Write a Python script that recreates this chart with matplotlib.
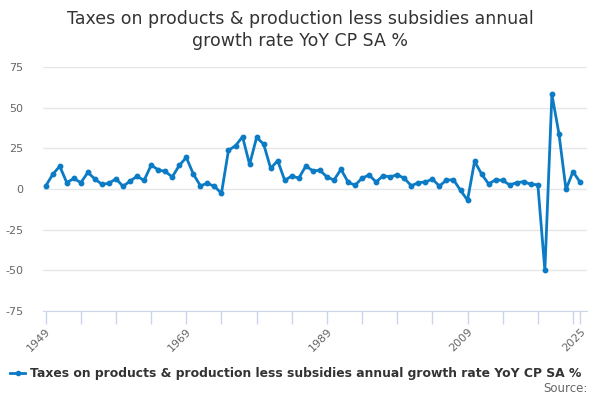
import matplotlib
matplotlib.use("Agg")
import matplotlib.pyplot as plt

years = list(range(1949, 2026))
values = [
    1.8, 9.0, 14.0, 3.9, 6.5, 3.9, 10.2, 6.1, 2.9, 3.5,   # 1949-1958
    6.3, 1.6, 4.9, 7.8, 5.3, 14.7, 11.8, 10.8, 7.4, 14.5,  # 1959-1968
    19.4, 9.2, 2.0, 3.5, 1.6, -2.6, 23.8, 26.6, 32.1, 15.1,  # 1969-1978
    31.7, 27.6, 12.7, 17.4, 5.3, 8.0, 6.7, 14.1, 11.2, 11.5,  # 1979-1988
    7.4, 5.5, 12.1, 4.3, 2.3, 6.7, 8.6, 4.3, 8.2, 7.4,  # 1989-1998
    8.8, 6.6, 2.0, 3.9, 4.3, 6.1, 1.8, 5.5, 5.7, -0.8,  # 1999-2008
    -6.9, 17.0, 9.2, 3.1, 5.7, 5.3, 2.5, 3.9, 4.5, 2.9,  # 2009-2018
    2.6, -50.0, 58.1, 34.0, -0.2, 10.6, 4.3,  # 2019-2025
]
series_name = "Taxes on products & production less subsidies annual growth rate YoY CP SA %"
title = "Taxes on products & production less subsidies annual\ngrowth rate YoY CP SA %"
ytick_vals = [-75, -50, -25, 0, 25, 50, 75]
xtick_labels = [1949, 1969, 1989, 2009, 2025]

color = "#0a7bc4"
fig = plt.figure(figsize=(6, 4), dpi=100)
ax = fig.add_axes([0.0717, 0.2225, 0.9058, 0.61])

for s in ["top", "right", "left"]:
    ax.spines[s].set_visible(False)
ax.spines["bottom"].set_color("#ccd6eb")

ax.plot(years, values, color=color, lw=2, marker="o", ms=3.2, zorder=3)

ax.set_ylim(-75, 75)
ax.set_xlim(1948.62, 2025.92)
ax.set_yticks(ytick_vals)
ax.set_yticklabels([str(v) for v in ytick_vals], color="#666666", fontsize=8)
ax.tick_params(axis="y", length=0, pad=14)
ax.grid(axis="y", color="#e6e6e6", lw=1)
ax.set_axisbelow(True)

minor = list(range(1949, 2025, 5)) + [2025]
ax.set_xticks(minor)
ax.set_xticklabels([str(y) if y in xtick_labels else "" for y in minor],
                   color="#666666", fontsize=8)
ax.tick_params(axis="x", length=9, color="#ccd6eb", width=1, pad=2)
for lab in ax.get_xticklabels():
    lab.set_rotation(45)
    lab.set_ha("right")
    lab.set_rotation_mode("anchor")

fig.text(0.5, 1 - 30 / 400, title, ha="center", va="center", fontsize=12.5,
         color="#333333", linespacing=1.25)

# legend
lx0, lx1, ly = 10 / 600, 25 / 600, 1 - 373 / 400
fig.add_artist(plt.Line2D([lx0, lx1], [ly, ly], color=color, lw=2,
                          transform=fig.transFigure))
fig.add_artist(plt.Line2D([(lx0 + lx1) / 2], [ly], color=color, marker="o", ms=3,
                          transform=fig.transFigure))
fig.text(30 / 600, ly, series_name, ha="left", va="center", fontsize=8.95,
         fontweight="bold", color="#333333")
fig.text(588 / 600, 1 - 389 / 400, "Source:", ha="right", va="center",
         fontsize=8.5, color="#666666")

fig.savefig("out.png", dpi=100)
